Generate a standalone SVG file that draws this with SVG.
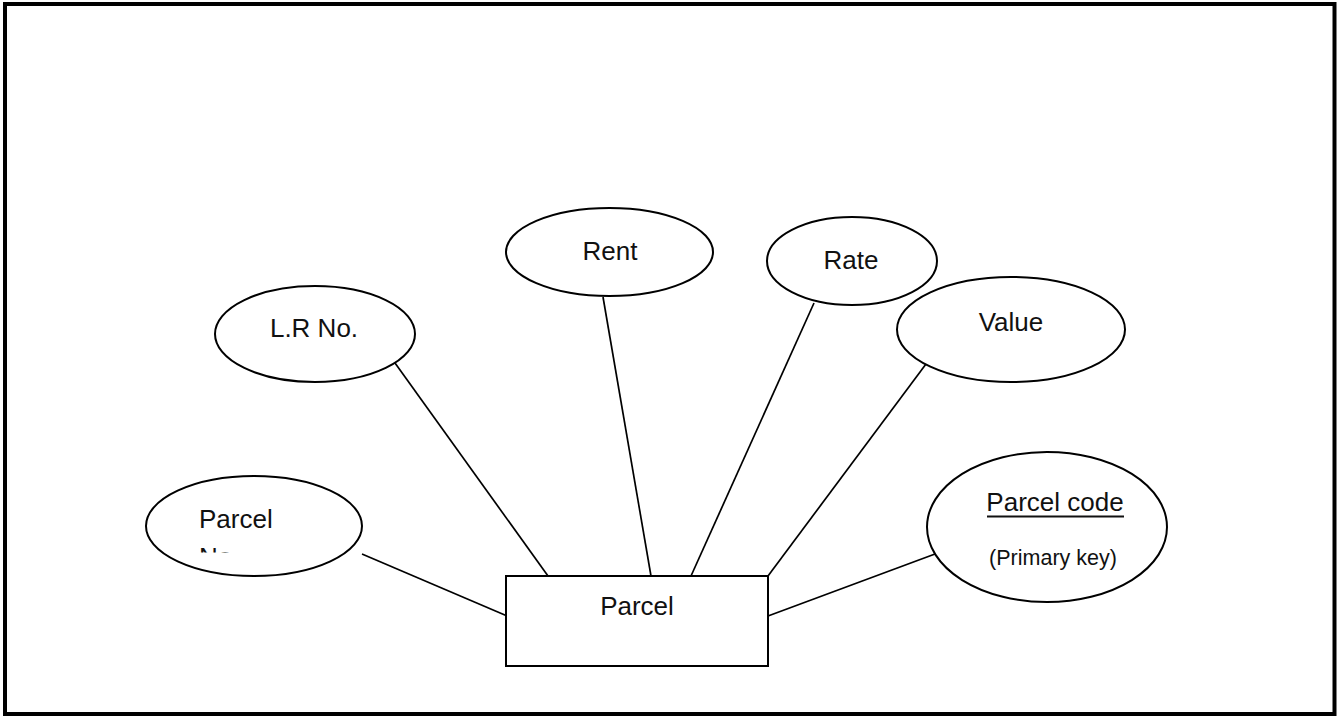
<svg xmlns="http://www.w3.org/2000/svg" width="1338" height="716" viewBox="0 0 1338 716">
<style>
.shape{fill:#fff;stroke:#000;stroke-width:2}
.conn line{stroke:#000;stroke-width:1.7}
.lbl{font-family:"Liberation Sans",Arial,sans-serif;font-size:26px;fill:#111}
.small{font-family:"Liberation Sans",Arial,sans-serif;font-size:21.5px;fill:#111}
</style>
<defs>
<clipPath id="clipNo"><rect x="140" y="480" width="240" height="72.5"/></clipPath>
</defs>
<rect x="5" y="4" width="1329.5" height="710" fill="#fff" stroke="#000" stroke-width="4"/>
<g class="conn" id="connectors">
<line x1="362" y1="554" x2="506" y2="615.5"/>
<line x1="395" y1="363" x2="548" y2="576"/>
<line x1="603" y1="297" x2="651" y2="576"/>
<line x1="814" y1="303" x2="691" y2="576"/>
<line x1="926" y1="364" x2="768" y2="576"/>
<line x1="935" y1="554" x2="768" y2="616"/>
</g>
<g id="parcel">
<rect class="shape" x="506" y="576" width="262" height="90"/>
<text class="lbl" x="637" y="615" text-anchor="middle">Parcel</text>
</g>
<g id="parcel-no">
<ellipse class="shape" cx="254" cy="526" rx="108" ry="50"/>
<text class="lbl" x="199" y="528">Parcel</text>
<text class="lbl" x="199" y="566" clip-path="url(#clipNo)">No.</text>
</g>
<g id="lr-no">
<ellipse class="shape" cx="315" cy="334" rx="100" ry="48"/>
<text class="lbl" x="314" y="337" text-anchor="middle">L.R No.</text>
</g>
<g id="rent">
<ellipse class="shape" cx="609.5" cy="252" rx="103.5" ry="44"/>
<text class="lbl" x="610" y="260" text-anchor="middle">Rent</text>
</g>
<g id="rate">
<ellipse class="shape" cx="852" cy="261" rx="85" ry="44"/>
<text class="lbl" x="851" y="269" text-anchor="middle">Rate</text>
</g>
<g id="value">
<ellipse class="shape" cx="1011" cy="329.5" rx="114" ry="52.5"/>
<text class="lbl" x="1011" y="331" text-anchor="middle">Value</text>
</g>
<g id="parcel-code">
<ellipse class="shape" cx="1047" cy="527" rx="120" ry="75"/>
<text class="lbl" x="1055" y="511" text-anchor="middle">Parcel code</text>
<line x1="987" y1="516.5" x2="1124" y2="516.5" stroke="#111" stroke-width="2"/>
<text class="small" x="1053" y="565" text-anchor="middle">(Primary key)</text>
</g>
</svg>
